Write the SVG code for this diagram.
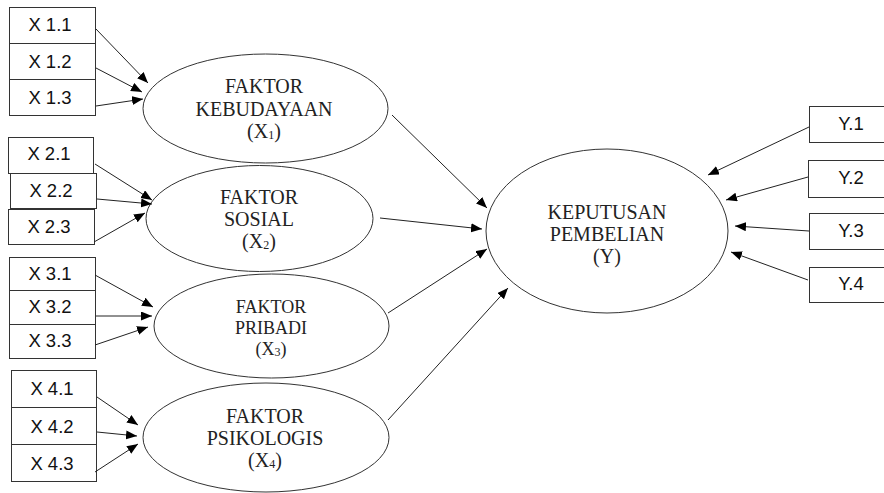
<svg xmlns="http://www.w3.org/2000/svg" width="884" height="493" viewBox="0 0 884 493">
<style>
.box{fill:#fff;stroke:#333;stroke-width:1}
.ell{fill:#fff;stroke:#333;stroke-width:1}
.bt{font-family:"Liberation Sans",Arial,sans-serif;font-size:18.5px;fill:#111;text-anchor:middle}
.et{font-family:"Liberation Serif","Times New Roman",serif;font-size:20px;fill:#222;text-anchor:middle}
.et3{font-family:"Liberation Serif","Times New Roman",serif;font-size:18px;fill:#222;text-anchor:middle}
.sub{font-size:12px}
.arr{stroke:#222;stroke-width:1;fill:none;marker-end:url(#ah)}
</style>
<defs>
<marker id="ah" markerUnits="userSpaceOnUse" markerWidth="12" markerHeight="10" refX="11" refY="4.5" orient="auto">
<path d="M0,0 L11,4.5 L0,9 z" fill="#000"/>
</marker>
</defs>
<rect width="884" height="493" fill="#fff"/>

<g id="x1-1"><rect class="box" x="9.5" y="7.5" width="86" height="36"/><text class="bt" x="50" y="31">X 1.1</text></g>
<g id="x1-2"><rect class="box" x="9.5" y="43.5" width="86" height="36"/><text class="bt" x="50" y="68">X 1.2</text></g>
<g id="x1-3"><rect class="box" x="9.5" y="79.5" width="86" height="36"/><text class="bt" x="50" y="104">X 1.3</text></g>

<g id="x2-1"><rect class="box" x="8.5" y="137.5" width="85" height="36"/><text class="bt" x="49" y="160">X 2.1</text></g>
<g id="x2-2"><rect class="box" x="10.5" y="173.5" width="86" height="35"/><text class="bt" x="51" y="197">X 2.2</text></g>
<g id="x2-3"><rect class="box" x="8.5" y="209.5" width="86" height="35"/><text class="bt" x="49" y="233">X 2.3</text></g>

<g id="x3-1"><rect class="box" x="9.5" y="257.5" width="86" height="33"/><text class="bt" x="50" y="280">X 3.1</text></g>
<g id="x3-2"><rect class="box" x="9.5" y="290.5" width="86" height="34"/><text class="bt" x="50" y="313">X 3.2</text></g>
<g id="x3-3"><rect class="box" x="9.5" y="324.5" width="86" height="34"/><text class="bt" x="50" y="347">X 3.3</text></g>

<g id="x4-1"><rect class="box" x="11.5" y="370.5" width="85" height="37"/><text class="bt" x="52" y="395">X 4.1</text></g>
<g id="x4-2"><rect class="box" x="11.5" y="407.5" width="85" height="37"/><text class="bt" x="52" y="433">X 4.2</text></g>
<g id="x4-3"><rect class="box" x="11.5" y="444.5" width="85" height="37"/><text class="bt" x="52" y="470">X 4.3</text></g>

<g id="faktor-kebudayaan"><ellipse class="ell" cx="265.5" cy="108.5" rx="122.5" ry="54.5"/>
<text class="et" x="264" y="93">FAKTOR</text><text class="et" x="264" y="116">KEBUDAYAAN</text><text class="et" x="264" y="138">(X<tspan class="sub" dy="1">1</tspan><tspan dy="-1">)</tspan></text></g>

<g id="faktor-sosial"><ellipse class="ell" cx="259.5" cy="218.5" rx="113.5" ry="53"/>
<text class="et" x="259" y="204">FAKTOR</text><text class="et" x="259" y="226">SOSIAL</text><text class="et" x="259" y="248">(X<tspan class="sub" dy="1">2</tspan><tspan dy="-1">)</tspan></text></g>

<g id="faktor-pribadi"><ellipse class="ell" cx="271.5" cy="326" rx="117.5" ry="52"/>
<text class="et3" x="271" y="313">FAKTOR</text><text class="et3" x="271" y="334">PRIBADI</text><text class="et3" x="271" y="355">(X<tspan class="sub" font-size="11" dy="1">3</tspan><tspan dy="-1">)</tspan></text></g>

<g id="faktor-psikologis"><ellipse class="ell" cx="266" cy="437.5" rx="123" ry="54.5"/>
<text class="et" x="265" y="423">FAKTOR</text><text class="et" x="265" y="445">PSIKOLOGIS</text><text class="et" x="265" y="467">(X<tspan class="sub" dy="1">4</tspan><tspan dy="-1">)</tspan></text></g>

<g id="keputusan-pembelian"><ellipse class="ell" cx="607" cy="231" rx="121" ry="82"/>
<text class="et" x="607" y="219">KEPUTUSAN</text><text class="et" x="607" y="241">PEMBELIAN</text><text class="et" x="607" y="263">(Y)</text></g>

<g id="y1"><rect class="box" x="809.5" y="106.5" width="80" height="36"/><text class="bt" x="851" y="130">Y.1</text></g>
<g id="y2"><rect class="box" x="808.5" y="160.5" width="80" height="37"/><text class="bt" x="851" y="184">Y.2</text></g>
<g id="y3"><rect class="box" x="809.5" y="213.5" width="80" height="36"/><text class="bt" x="851" y="237">Y.3</text></g>
<g id="y4"><rect class="box" x="809.5" y="267.5" width="80" height="35"/><text class="bt" x="851" y="290">Y.4</text></g>

<g id="connectors">
<line class="arr" x1="96" y1="29" x2="148" y2="83"/>
<line class="arr" x1="96" y1="68" x2="142" y2="92"/>
<line class="arr" x1="96" y1="106" x2="143" y2="99"/>
<line class="arr" x1="95" y1="164" x2="152" y2="200"/>
<line class="arr" x1="97" y1="199" x2="152" y2="204"/>
<line class="arr" x1="94" y1="242" x2="145" y2="213"/>
<line class="arr" x1="95" y1="275" x2="153" y2="307"/>
<line class="arr" x1="96" y1="316" x2="152" y2="316"/>
<line class="arr" x1="95" y1="345" x2="148" y2="327"/>
<line class="arr" x1="97" y1="397" x2="138" y2="425"/>
<line class="arr" x1="97" y1="432" x2="137" y2="436"/>
<line class="arr" x1="95" y1="472" x2="138" y2="444"/>
<line class="arr" x1="392" y1="115" x2="487" y2="208"/>
<line class="arr" x1="380" y1="218" x2="482" y2="229"/>
<line class="arr" x1="388" y1="313" x2="487" y2="249"/>
<line class="arr" x1="388" y1="420" x2="508" y2="288"/>
<line class="arr" x1="809" y1="127" x2="708" y2="175"/>
<line class="arr" x1="808" y1="177" x2="726" y2="200"/>
<line class="arr" x1="809" y1="231" x2="735" y2="226"/>
<line class="arr" x1="808" y1="280" x2="731" y2="252"/>
</g>
</svg>
